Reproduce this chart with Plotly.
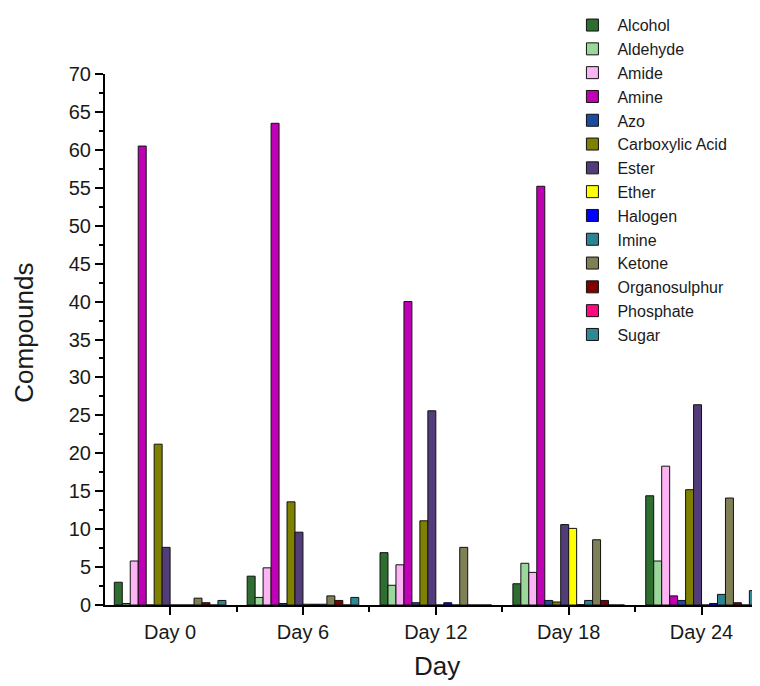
import plotly.graph_objects as go

days = ["Day 0", "Day 6", "Day 12", "Day 18", "Day 24"]
day_pos = [0, 1, 2, 3, 4]

alcohol = [3.0, 3.8, 6.9, 2.8, 14.4]
aldehyde = [0.2, 1.0, 2.6, 5.5, 5.8]
amide = [5.8, 4.9, 5.3, 4.3, 18.3]
amine = [60.5, 63.5, 40.0, 55.2, 1.2]
azo = [0.0, 0.2, 0.3, 0.6, 0.6]
carboxylic_acid = [21.2, 13.6, 11.1, 0.4, 15.2]
ester = [7.6, 9.6, 25.6, 10.6, 26.4]
ether = [0.0, 0.1, 0.0, 10.1, 0.0]
halogen = [0.0, 0.1, 0.3, 0.05, 0.2]
imine = [0.0, 0.1, 0.0, 0.6, 1.4]
ketone = [0.9, 1.2, 7.6, 8.6, 14.1]
organosulphur = [0.3, 0.6, 0.0, 0.6, 0.3]
phosphate = [0.0, 0.0, 0.0, 0.0, 0.0]
sugar = [0.6, 1.0, 0.0, 0.0, 1.9]

series = [
    ("Alcohol", alcohol, "#2E6E30"),
    ("Aldehyde", aldehyde, "#9BD69B"),
    ("Amide", amide, "#FDB4F4"),
    ("Amine", amine, "#BF00B5"),
    ("Azo", azo, "#1C4CA0"),
    ("Carboxylic Acid", carboxylic_acid, "#808000"),
    ("Ester", ester, "#523D7A"),
    ("Ether", ether, "#FFFF00"),
    ("Halogen", halogen, "#0000FF"),
    ("Imine", imine, "#2B8495"),
    ("Ketone", ketone, "#7F8055"),
    ("Organosulphur", organosulphur, "#800000"),
    ("Phosphate", phosphate, "#FF0A80"),
    ("Sugar", sugar, "#2F8896"),
]

FONT = "Liberation Sans, Arial, sans-serif"
TXT = "#1a1a1a"

fig = go.Figure()
for name, vals, col in series:
    fig.add_trace(go.Bar(
        x=day_pos, y=vals, name=name,
        marker=dict(color=col, line=dict(color="#111111", width=1)),
    ))

# page body has an 8px default margin, so the figure is sized to fit
fig.update_layout(
    width=752, height=678,
    margin=dict(l=97, r=0, t=61, b=81),
    paper_bgcolor="white", plot_bgcolor="white",
    barmode="group", bargap=0.16, bargroupgap=0,
    font=dict(family=FONT, size=18, color=TXT),
    showlegend=True,
    legend=dict(
        x=0.706, y=1.124, xanchor="left", yanchor="top",
        bgcolor="rgba(0,0,0,0)", font=dict(size=16, family=FONT, color=TXT),
        tracegroupgap=0, itemwidth=40, maxheight=670,
    ),
    annotations=[
        dict(text="Compounds", textangle=-90, xref="paper", yref="paper",
             x=-0.125, y=0.513, xanchor="center", yanchor="middle",
             showarrow=False, font=dict(size=26, family=FONT, color=TXT)),
        dict(text="Day", xref="paper", yref="paper",
             x=0.507, y=-0.115, xanchor="center", yanchor="middle",
             showarrow=False, font=dict(size=26, family=FONT, color=TXT)),
    ],
)

fig.update_xaxes(
    range=[-0.49, 4.44], tickmode="array", tickvals=day_pos, ticktext=days,
    showline=True, linecolor="black", linewidth=2, mirror=False,
    ticks="outside", ticklen=8, tickwidth=2, tickcolor="black",
    showgrid=False, zeroline=False,
    tickfont=dict(size=20, family=FONT, color=TXT),
    minor=dict(tick0=0.5, dtick=1, ticks="outside", ticklen=5, tickwidth=2, tickcolor="black", showgrid=False),
)
fig.update_yaxes(
    range=[0, 70], tickmode="linear", tick0=0, dtick=5,
    showline=True, linecolor="black", linewidth=2,
    ticks="outside", ticklen=8, tickwidth=2, tickcolor="black",
    showgrid=False, zeroline=False,
    tickfont=dict(size=20, family=FONT, color=TXT),
    minor=dict(dtick=2.5, ticks="outside", ticklen=4, tickwidth=2, tickcolor="black", showgrid=False),
)

fig.write_html("out.html")
